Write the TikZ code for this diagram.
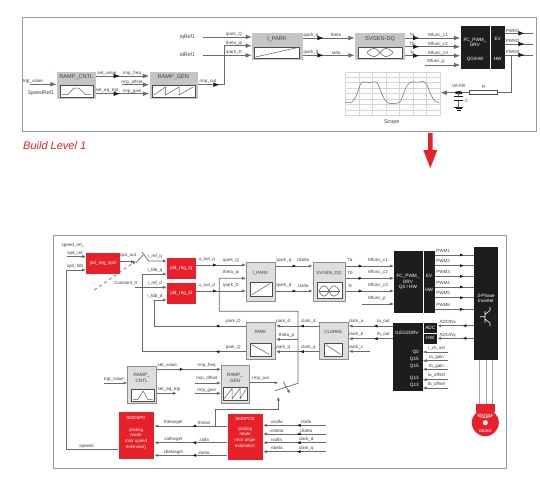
\documentclass[tikz,border=0pt]{standalone}
\usepackage{fontspec}
\setmainfont{Liberation Sans}
\usetikzlibrary{arrows.meta,decorations.markings,calc}
\definecolor{wirec}{HTML}{6A6A6A}
\definecolor{boxg}{HTML}{C4C5C7}
\definecolor{boxl}{HTML}{DEDEDE}
\definecolor{boxe}{HTML}{8C8C8C}
\definecolor{redb}{HTML}{E8202A}
\definecolor{blk}{HTML}{1E1C1C}
\newcounter{lb}
\newcommand{\lab}[3]{\stepcounter{lb}\node[lbl] (lb\thelb) at (#1,#2) {#3};}
\newcommand{\wlab}[3]{\stepcounter{lb}\node[wlbl] (lb\thelb) at (#1,#2) {#3};}
\tikzset{
  tipa/.tip={Latex[length=3.8pt,width=3.2pt]},
  tipb/.tip={Latex[length=6.4pt,width=4.8pt]},
  wire/.style={draw=wirec,line width=.7pt},
  thick wire/.style={draw=wirec,line width=.9pt},
  ma/.style={postaction={decorate,decoration={markings,mark=at position #1pt with {\arrow[blk]{tipa}}}}},
  mb/.style={postaction={decorate,decoration={markings,mark=at position #1pt with {\arrow[blk]{tipb}}}}},
  lbl/.style={font=\fontsize{4.5}{5}\selectfont,text=black!75,inner sep=0pt},
  wlbl/.style={font=\fontsize{4.7}{5.6}\selectfont,text=white,inner sep=0pt,align=center},
  gbox/.style={rectangle,fill=boxg,draw=none,anchor=north west,inner sep=0pt},
  lbox/.style={rectangle,fill=boxl,draw=boxe,line width=1pt,anchor=north west,inner sep=0pt},
  ibox/.style={rectangle,fill=white,draw=black!70,line width=.7pt,anchor=north west,inner sep=0pt},
  rbox/.style={rectangle,fill=redb,draw=none,anchor=north west,inner sep=0pt},
  kbox/.style={rectangle,fill=blk,draw=none,anchor=north west,inner sep=0pt},
  frame/.style={draw=black!40,line width=.8pt},
  glyph/.style={draw=black!65,line width=.5pt},
  tt/.style={font=\fontsize{5.6}{6}\selectfont,text=black!75,inner sep=0pt},
  tts/.style={font=\fontsize{4.7}{5.8}\selectfont,text=black!75,inner sep=0pt,align=center},
  grid line/.style={draw=black!16,line width=.35pt},
}
\begin{document}
\begin{tikzpicture}[x=1pt,y=-1pt]
\useasboundingbox[fill=white] (0,0) rectangle (540,482);
% frames
\draw[frame] (22.5,17.5) rectangle (536.7,131);
\draw[frame] (53,235) rectangle (506,468);
% ---------- TOP ----------
\node[gbox,minimum width=39.3pt,minimum height=27pt] (rc) at (56.7,71.7) {};
\node[gbox,minimum width=48pt,minimum height=27pt] (rg) at (149.3,71.7) {};
\node[gbox,minimum width=50.3pt,minimum height=27pt] (ip) at (252,33) {};
\node[gbox,minimum width=50.3pt,minimum height=27pt] (sv) at (354.7,33) {};
\node[kbox,minimum width=29.7pt,minimum height=43.7pt] (fc) at (460.3,25.3) {};
\node[kbox,minimum width=13.3pt,minimum height=43.7pt] (ev) at (491,25.3) {};
\node[ibox,minimum width=32.7pt,minimum height=11.7pt] (rci) at (60,85) {};
\node[ibox,minimum width=42.4pt,minimum height=11.7pt] (rgi) at (152.3,85) {};
\node[ibox,minimum width=45pt,minimum height=11.3pt] (ipi) at (254,46.7) {};
\node[ibox,minimum width=44.6pt,minimum height=11.7pt] (svi) at (357.7,46.7) {};
\node[tt] (rct) at (76.3,77.5) {RAMP\_CNTL};
\node[tt] (rgt) at (173.3,77.5) {RAMP\_GEN};
\node[tt] (ipt) at (277,39.5) {I\_PARK};
\node[tt] (svt) at (380,39.5) {SVGEN-DQ};
\wlab{475}{42}{FC\_PWM\_\\[-.5pt]DRV}
\wlab{475}{59}{QG/HW}
\wlab{497.7}{39}{EV}
\wlab{497.7}{59}{HW}
% glyphs
\draw[glyph] (62,94.5) -- (68,94.5) -- (74,88) -- (79,88) -- (85,94.5) -- (91,94.5);
\draw[glyph] (154,95) -- (165.5,87) -- (165.5,95) -- (179,87) -- (179,95) -- (193,87);
\draw[glyph] (255.5,57) -- (298,47.5);
\draw[glyph] (367,52.5) .. controls (372,47) and (376,47) .. (380,52.5) .. controls (384,58) and (388,58) .. (393,52.5);
\draw[glyph] (367,52.5) .. controls (372,58) and (376,58) .. (380,52.5) .. controls (384,47) and (388,47) .. (393,52.5);
% top connectors
\coordinate (iqs) at (203,37); \coordinate (ids) at (203,55.3);
\coordinate (tvs) at (30,84.3); \coordinate (cor) at (224,84.7);
\coordinate (ofs) at (121.7,84.7); \coordinate (mps) at (425,65);
\draw[thick wire,-{tipb}] (iqs) -- (iqs -| ip.west);
\draw[thick wire,-{tipb}] (ids) -- (ids -| ip.west);
\draw[thick wire,mb=22,-{tipb}] (rg.east |- cor) -- (cor) -- (224,45.7) -- (ip.west |- 0,45.7);
\draw[thick wire,-{tipb}] (tvs) -- (tvs -| rc.west);
\draw[thick wire,mb=24,-{tipb}] (96,76) -- (76,76 -| rg.west);
\draw[thick wire,-{tipb}] (ofs) -- (ofs -| rg.west);
\draw[thick wire,mb=24,-{tipb}] (96,93.7) -- (76,93.7 -| rg.west);
\draw[thick wire,mb=21,-{tipb}] (ip.east |- 0,38) -- (sv.west |- 0,38);
\draw[thick wire,mb=21,-{tipb}] (ip.east |- 0,55.3) -- (sv.west |- 0,55.3);
\foreach \yy in {38,46.7,55.7} {\draw[thick wire,mb=14,-{tipb}] (sv.east |- 0,\yy) -- (fc.west |- 0,\yy);}
\draw[thick wire,-{tipb}] (mps) -- (mps -| fc.west);
\foreach \yy in {33.3,44,55} {\draw[thick wire,mb=20] (ev.east |- 0,\yy) -- (533,\yy);}
\lab{187.3}{37}{\fontsize{5.2}{6}\selectfont IqRef1}
\lab{187.3}{54.7}{\fontsize{5.2}{6}\selectfont IdRef1}
\lab{234}{34.3}{ipark\_Q}\lab{234}{43}{theta\_ip}\lab{234}{52.6}{ipark\_D}
\lab{33}{81.6}{trgt\_value}
\lab{41}{93.5}{\fontsize{5.2}{6}\selectfont SpeedRef1}
\lab{107}{73.3}{set\_value}\lab{132}{73.3}{rmp\_freq}
\lab{132}{82}{rmp\_offset}
\lab{107}{91}{set\_eq\_trgt}\lab{132}{91}{rmp\_gain}
\lab{208}{82}{rmp\_out}
\lab{311}{35.3}{ipark\_q}\lab{336}{35.3}{tbeta}
\lab{311}{52.6}{ipark\_d}\lab{336}{52.6}{talfa}
\lab{412}{34.8}{Ta}\lab{412}{43.5}{Tb}\lab{412}{52.5}{Tc}
\lab{438}{35}{Mfunc\_c1}\lab{438}{44.2}{Mfunc\_c2}\lab{438}{53}{Mfunc\_c3}\lab{436}{61.5}{Mfunc\_p}
\lab{512.5}{30.7}{PWM1}\lab{512.5}{41}{PWM2}\lab{512.5}{51.7}{PWM3}
% scope
\draw[grid line] (345.3,71.7) rectangle (440,115);
\foreach \xx in {358.8,372.3,385.8,399.3,412.8,426.3} \draw[grid line] (\xx,71.7) -- (\xx,115);
\foreach \yy in {77,82.5,88,93.5,99,104.5,110} \draw[grid line] (345.3,\yy) -- (440,\yy);
\draw[black!55,line width=.55pt] (345.3,102) .. controls (350,103.5) and (353,104) .. (357,94)
 .. controls (361,84) and (360,81) .. (365,82) .. controls (368,82.5) and (370,83) .. (373,82)
 .. controls (378,80) and (378,85) .. (381,92) .. controls (385,101) and (387,104) .. (392,103.5)
 .. controls (396,103) and (398,104) .. (400,102) .. controls (404,96) and (405,83) .. (412,82)
 .. controls (416,81.5) and (418,83) .. (422,81.5) .. controls (426,80) and (428,88) .. (431,95)
 .. controls (434,101) and (436,103) .. (439.5,103);
\node[tts,font=\fontsize{5.4}{6}\selectfont] (sc) at (391.7,122) {Scope};
\node[draw=black!70,fill=white,line width=.6pt,minimum width=28.4pt,minimum height=4pt,inner sep=0pt] (res) at (483.5,92.7) {};
\coordinate (vn) at (458.7,92.7);
\coordinate (scr) at (440.5,92.7);
\draw[thick wire] (ev.east |- 0,55) -- (511.7,55) -- (511.7,92.7) -- (res.east);
\draw[thick wire,-{tipb}] (res.west) -- (vn) -- (scr);
\fill[blk] (vn) ellipse (4pt and 1.6pt);
\draw[wire] (vn) -- (458.7,96.7) (458.7,100) -- (458.7,107);
\draw[blk,line width=1pt] (454,96.7) -- (463.4,96.7) (454,100) -- (463.4,100);
\draw[blk,line width=.8pt] (454,107) -- (463.4,107) (455.5,108.6) -- (462,108.6) (457,110.2) -- (460.5,110.2);
\lab{458.7}{86.3}{VA-FB}\lab{483.5}{87.3}{R}\lab{466.7}{100.5}{C}
% big arrow and title
\coordinate (rb) at (430.3,168);
\fill[redb] (428,133) -- (432.6,133) -- (432.6,150) -- (437.3,150) -- (rb) -- (423.3,150) -- (428,150) -- cycle;
\node[font=\fontsize{11}{12}\selectfont\itshape,text=redb,inner sep=0pt,anchor=west] (bl) at (23,146) {Build Level 1};
% ---------- BOTTOM ----------
\node[rbox,minimum width=33.3pt,minimum height=21.3pt] (ps) at (86,252.7) {};
\node[rbox,minimum width=29.3pt,minimum height=21pt] (pq) at (166.7,257.3) {};
\node[rbox,minimum width=29.3pt,minimum height=21.3pt] (pd) at (166.7,282.7) {};
\node[lbox,minimum width=29pt,minimum height=39.3pt] (ip2) at (246,261.7) {};
\node[lbox,minimum width=32.3pt,minimum height=39.3pt] (sv2) at (312.7,261.7) {};
\node[lbox,minimum width=29pt,minimum height=37.3pt] (pk) at (246,321.7) {};
\node[lbox,minimum width=28.7pt,minimum height=37.3pt] (cl) at (319,321.7) {};
\node[lbox,minimum width=28.7pt,minimum height=37.3pt] (rc2) at (127.3,366) {};
\node[lbox,minimum width=28.3pt,minimum height=37.7pt] (rg2) at (221,365) {};
\node[rbox,minimum width=35.7pt,minimum height=46.6pt] (sp) at (118.3,411.7) {};
\node[rbox,minimum width=35.4pt,minimum height=46.7pt] (so) at (227.3,413.3) {};
\node[kbox,minimum width=28.3pt,minimum height=61.7pt] (fc2) at (394,251) {};
\node[kbox,minimum width=11.7pt,minimum height=61.7pt] (ev2) at (423.3,251) {};
\node[kbox,minimum width=29.6pt,minimum height=68.7pt] (il) at (392.7,322.3) {};
\node[kbox,minimum width=13.3pt,minimum height=10.4pt] (ad) at (423.7,322.3) {};
\node[kbox,minimum width=13.3pt,minimum height=10pt] (hw) at (423.7,333.3) {};
\node[kbox,minimum width=23.7pt,minimum height=113.3pt] (in) at (474,246.7) {};
% inner boxes
\node[ibox,minimum width=21.7pt,minimum height=13.7pt] (ip2i) at (250,282.3) {};
\node[ibox,minimum width=25pt,minimum height=16pt] (sv2i) at (316.7,282) {};
\node[ibox,minimum width=21pt,minimum height=12.7pt] (pki) at (250,343) {};
\node[ibox,minimum width=17.4pt,minimum height=12.4pt] (cli) at (324.3,343.3) {};
\node[ibox,minimum width=23pt,minimum height=11.7pt] (rc2i) at (131,389.3) {};
\node[ibox,minimum width=24.6pt,minimum height=13pt] (rg2i) at (222.7,387) {};
\draw[glyph] (251.5,295) -- (270,283.5);
\draw[glyph] (319,291) .. controls (322,284) and (326,284) .. (329,291) .. controls (332,298) and (336,298) .. (339.5,291);
\draw[glyph] (319,291) .. controls (322,298) and (326,298) .. (329,291) .. controls (332,284) and (336,284) .. (339.5,291);
\draw[glyph] (319,291) -- (339.5,291);
\draw[glyph] (251.5,344.5) -- (269.5,354.5);
\draw[glyph] (325.8,344.5) -- (340.5,354.5);
\draw[glyph] (133,399.5) -- (138,399.5) -- (143,391) -- (148,399.5) -- (152.5,399.5);
\draw[glyph] (224,399) -- (232,388.5) -- (232,399) -- (240,388.5) -- (240,399) -- (246.5,388.5);
% box texts
\wlab{102.7}{263.3}{pid\_reg\_spd}\wlab{181.3}{267.8}{pid\_reg\_iq}\wlab{181.3}{293.3}{pid\_reg\_id}
\lab{260.5}{273}{I\_PARK}\lab{328.8}{273}{SVGEN\_DQ}\lab{260.5}{332}{PARK}\lab{333.3}{332}{CLARKE}
\node[tts] (rc2t) at (141.7,377.5) {RAMP\_\\CNTL};
\node[tts] (rg2t) at (235,377.5) {RAMP\_\\GEN};
\node[wlbl,font=\fontsize{4.4}{5.6}\selectfont] (spt) at (136,418.3) {SMOSPD};
\node[wlbl,font=\fontsize{4.4}{5.6}\selectfont] (spu) at (136,438.5) {(sliding\\mode\\rotor speed\\estimator)};
\node[wlbl,font=\fontsize{4.4}{5.6}\selectfont] (sot) at (245,419.3) {SMOPOS};
\node[wlbl,font=\fontsize{4.4}{5.6}\selectfont] (sou) at (245,437.5) {(sliding\\mode\\rotor angle\\estimator)};
\wlab{408}{282}{FC\_PWM\_\\DRV\\Q0 / HW}
\wlab{429.2}{276}{EV}\wlab{429.2}{290}{HW}
\wlab{407}{332.7}{ILEG2DRV}
\wlab{430.3}{327.5}{ADC}\wlab{430.3}{338.3}{HW}
\node[wlbl,anchor=east] (q1) at (419,352) {Q0};
\node[wlbl,anchor=east] (q2) at (419,359) {Q15};
\node[wlbl,anchor=east] (q3) at (419,366.3) {Q15};
\node[wlbl,anchor=east] (q4) at (419,378) {Q13};
\node[wlbl,anchor=east] (q5) at (419,385) {Q13};
\wlab{486}{298.5}{3-Phase\\Inverter}
\draw[white,line width=.6pt] (480,316.7) -- (485,316.7) (485,311) -- (485,322.5) (485,314.5) -- (490,310.5) -- (490,307) (485,319) -- (490,323) -- (490,326);
% speed loop
\coordinate (srs) at (66.7,256.7);
\coordinate (fdbc) at (66,270);
\draw[wire,-{tipa}] (srs) -- (srs -| ps.west);
\draw[wire,-{tipa}] (sp.west |- 0,449.3) -- (66,449.3) -- (fdbc) -- (fdbc -| ps.west);
\lab{73}{245}{speed\_ref\_}\lab{75}{253.3}{spd\_ref}\lab{75}{266}{spd\_fdb}
\lab{128}{255.7}{spd\_out}
\coordinate (swa) at (135,261.7);
\draw[wire,-{tipa}] (ps.east |- swa) -- (swa);
\coordinate (swb) at (148.7,261);
\coordinate (swt) at (142,252);
\draw[wire,-{tipa}] (swt) -- (swb) -- (swb -| pq.west);
\draw[wire] (136,263) -- (143,255);
\coordinate (dsa) at (94.3,290); \coordinate (dsb) at (136,261);
\draw[wire,dashed,line width=.7pt,-{tipa}] (dsa) -- (dsb);
\lab{155}{256.5}{i\_ref\_q}\lab{155}{270}{i\_fdb\_q}\lab{155}{283.5}{i\_ref\_d}\lab{155}{296}{i\_fdb\_d}
\lab{125.7}{283.3}{Constant\_0}
\coordinate (cns) at (135,287.3);
\draw[wire,-{tipa}] (cns) -- (cns -| pd.west);
\draw[wire,ma=30.5,-{tipa}] (pk.west |- 0,351.7) -- (142,351.7) -- (142,274) -- (pq.west |- 0,274);
\draw[wire,ma=30.5,-{tipa}] (pk.west |- 0,326) -- (154.3,326) -- (154.3,300) -- (pd.west |- 0,300);
\draw[wire,ma=20.5,-{tipa}] (pq.east |- 0,265) -- (ip2.west |- 0,265);
\draw[wire,ma=20.5,-{tipa}] (pd.east |- 0,291) -- (ip2.west |- 0,291);
\lab{206.7}{259.7}{u\_out\_q}\lab{206.7}{285.7}{u\_out\_d}
\lab{231}{260}{ipark\_Q}\lab{231}{272.7}{theta\_ip}\lab{231}{285.7}{ipark\_D}
% theta line
\coordinate (thv) at (298,383.3);
\coordinate (thb) at (275,390.7);
\draw[wire,-{tipa}] (thb) -- (thv) -- (298,311.3) -- (219.3,311.3) -- (219.3,278.3) -- (ip2.west |- 0,278.3);
\draw[wire,ma=20.3,-{tipa}] (ip2.east |- 0,266) -- (sv2.west |- 0,266);
\draw[wire,ma=20.3,-{tipa}] (ip2.east |- 0,291) -- (sv2.west |- 0,291);
\lab{284}{260}{ipark\_q}\lab{303}{260}{Ubeta}\lab{284}{285.7}{ipark\_d}\lab{303}{285.7}{Ualfa}
\foreach \yy in {266,278.3,291} {\draw[wire,ma=16.5,-{tipa}] (sv2.east |- 0,\yy) -- (fc2.west |- 0,\yy);}
\coordinate (mp2) at (361.7,304);
\draw[wire,-{tipa}] (mp2) -- (mp2 -| fc2.west);
\lab{350}{260}{Ta}\lab{350}{272.7}{Tb}\lab{350}{285.7}{Tc}
\lab{378}{260}{Mfunc\_c1}\lab{378}{272.7}{Mfunc\_c2}\lab{378}{285.7}{Mfunc\_c3}\lab{377}{298.3}{Mfunc\_p}
\foreach \yy in {255,265.7,276.3,287,297.7,309.3} {\draw[wire,ma=28.5] (ev2.east |- 0,\yy) -- (in.west |- 0,\yy);}
\lab{443}{251}{PWM1}\lab{443}{261}{PWM2}\lab{443}{271.7}{PWM3}\lab{443}{282.7}{PWM4}\lab{443}{293.3}{PWM5}\lab{443}{305}{PWM6}
% park - clarke
\draw[wire,ma=19,-{tipa}] (cl.west |- 0,326) -- (pk.east |- 0,326);
\draw[wire,ma=19,-{tipa}] (cl.west |- 0,351.7) -- (pk.east |- 0,351.7);
\draw[wire,-{tipa}] (298,339.3) -- (pk.east |- 0,339.3);
\lab{283.3}{321.7}{park\_d}\lab{286.7}{335}{theta\_p}\lab{283.3}{347.3}{park\_q}
\lab{308.3}{321.7}{clark\_d}\lab{308.3}{347.3}{clark\_q}
\lab{233.3}{321.7}{park\_D}\lab{233.3}{347.3}{park\_Q}
\draw[wire,ma=19,-{tipa}] (il.west |- 0,326) -- (cl.east |- 0,326);
\draw[wire,ma=19,-{tipa}] (il.west |- 0,338.7) -- (cl.east |- 0,338.7);
\coordinate (ccs) at (370,351.3);
\draw[wire,-{tipa}] (ccs) -- (ccs -| cl.east);
\lab{356}{321.7}{clark\_a}\lab{356}{334.5}{clark\_b}\lab{356}{347.3}{clark\_c}
\lab{383.3}{321.7}{Ia\_out}\lab{383.3}{334.5}{Ib\_out}
% ADC
\draw[wire,ma=11.5,-{tipa}] (in.west |- 0,325.7) -- (ad.east |- 0,325.7);
\draw[wire,ma=11.5,-{tipa}] (in.west |- 0,338.3) -- (hw.east |- 0,338.3);
\lab{447.7}{321.7}{ADCINx}\lab{447.7}{335}{ADCINy}
\foreach \yy/\tx/\ty in {352/i\_ch\_sel/348.3,360.7/Ia\_gain/357.3,369.3/Ib\_gain/366,379.7/Ia\_offset/375.7,388/Ib\_offset/384} {
  \coordinate (ee) at (448.3,\yy);
  \draw[wire,-{tipa}] (ee) -- (ee -| il.east);
  \node[lbl] at (436.5,\ty) {\tx};
}
% motor
\foreach \xx in {479.7,486,492.3} \draw[black!35,line width=1pt] (\xx,360) -- (\xx,405);
\node[rbox,minimum width=19pt,minimum height=8pt] (mc) at (476,404) {};
\node[circle,fill=redb,minimum size=27pt,inner sep=0pt] (mt) at (485.3,422.7) {};
\draw[white,line width=.4pt] (477,414.5) arc (135:45:11.5);
\fill[white] (mt.center) circle (2.5);
\wlab{485.3}{416.2}{PMSM}\wlab{485.3}{430.7}{Motor}
% lower ramp
\coordinate (tgs) at (104,383);
\draw[wire,-{tipa}] (tgs) -- (tgs -| rc2.west);
\lab{114}{379.3}{trgt\_value}
\draw[wire,ma=26.7,-{tipa}] (rc2.east |- 0,369.3) -- (rg2.west |- 0,369.3);
\coordinate (ofb) at (195.3,383); \coordinate (gnb) at (195.3,393.3); \coordinate (seq) at (176.7,393.3);
\draw[wire,-{tipa}] (ofb) -- (ofb -| rg2.west);
\draw[wire,-{tipa}] (gnb) -- (gnb -| rg2.west);
\draw[wire,-{tipa}] (rc2.east |- seq) -- (seq);
\lab{167.3}{365.7}{set\_value}\lab{169}{390}{set\_eq\_trgt}
\lab{206.7}{365.7}{rmp\_freq}\lab{206.7}{378.7}{rmp\_offset}\lab{206.7}{390}{rmp\_gain}
\coordinate (sw1) at (278.3,382.7); \coordinate (sw2) at (278.3,396.7);
\draw[wire,-{tipa}] (rg2.east |- sw1) -- (sw1);
\lab{260.7}{379}{rmp\_out}
\draw[wire,-{tipa}] (215.7,426) -- (215.7,409.3) -- (278.3,409.3) -- (sw2);
\coordinate (tka) at (283.3,381.7); \coordinate (tkb) at (290,393.6);
\draw[wire,-{tipa}] (tka) -- (tkb);
% SMO lines
\draw[wire,ma=35,-{tipa}] (so.west |- 0,426) -- (sp.east |- 0,426);
\draw[wire,ma=35,-{tipa}] (so.west |- 0,442.7) -- (sp.east |- 0,442.7);
\draw[wire,ma=35,-{tipa}] (so.west |- 0,455.3) -- (sp.east |- 0,455.3);
\lab{173.3}{422.7}{thetasgel}\lab{204}{422.7}{thetas}
\lab{173.3}{439.7}{zalfasgel}\lab{204}{439.7}{zalfa}
\lab{173.3}{452.7}{zbetasgel}\lab{204}{452.7}{zbeta}
\lab{86.7}{446.7}{speedx}
\foreach \yy/\ta/\tb/\tyy in {425.3/vsalfa/Ualfa/421.7,434/vsbeta/Ubeta/430.7,442.7/isalfa/clark\_d/439.4,451.7/isbeta/clark\_q/448} {
  \coordinate (ee) at (326,\yy);
  \draw[wire,ma=29.3,-{tipa}] (ee) -- (ee -| so.east);
  \node[lbl] at (276.7,\tyy) {\ta};
  \node[lbl] at (306,\tyy) {\tb};
}
\end{tikzpicture}
\end{document}
